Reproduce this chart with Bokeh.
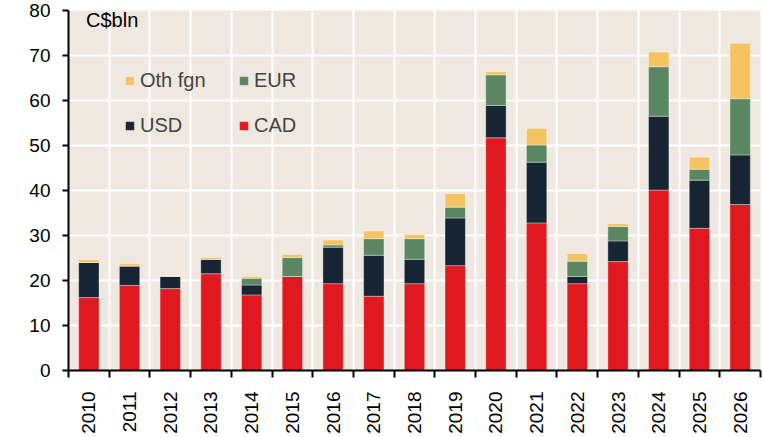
import math
from bokeh.plotting import figure
from bokeh.models import ColumnDataSource, FixedTicker, Legend, LegendItem, Label, Range1d
from bokeh.embed import file_html
from bokeh.resources import INLINE

years = ["2010", "2011", "2012", "2013", "2014", "2015", "2016", "2017", "2018",
         "2019", "2020", "2021", "2022", "2023", "2024", "2025", "2026"]
cad = [16.2, 18.9, 18.2, 21.5, 16.8, 20.9, 19.3, 16.5, 19.3, 23.3, 51.7, 32.8, 19.3, 24.2, 40.1, 31.6, 36.9]
usd = [7.8, 4.3, 2.7, 3.2, 2.2, 0.0, 8.1, 9.1, 5.4, 10.6, 7.2, 13.5, 1.6, 4.6, 16.4, 10.7, 11.0]
eur = [0.0, 0.0, 0.0, 0.0, 1.5, 4.2, 0.5, 3.7, 4.6, 2.4, 6.8, 3.8, 3.4, 3.2, 11.0, 2.4, 12.5]
oth = [0.6, 0.5, 0.1, 0.4, 0.4, 0.7, 1.1, 1.7, 0.9, 3.0, 0.7, 3.7, 1.7, 0.6, 3.3, 2.7, 12.3]
yticks = [0, 10, 20, 30, 40, 50, 60, 70, 80]

series = ["CAD", "USD", "EUR", "Oth"]
labels = ["CAD", "USD", "EUR", "Oth fgn"]
colors = ["#E0181F", "#162433", "#5A8762", "#F5C462"]
FONT = "Liberation Sans"

n = len(years)
xs = [i + 0.5 for i in range(n)]          # category centres
bounds = list(range(n + 1))               # category boundaries
src = ColumnDataSource(dict(x=xs, CAD=cad, USD=usd, EUR=eur, Oth=oth))

p = figure(width=762, height=436, output_backend="svg", toolbar_location=None,
           x_range=Range1d(0, n), y_range=Range1d(0, 80),
           min_border_left=68, min_border_right=2, min_border_top=10, min_border_bottom=63)
p.background_fill_color = "#EFE8E1"
p.border_fill_color = "white"
p.outline_line_color = None

rs = p.vbar_stack(series, x="x", width=0.5, source=src, fill_color=colors,
                  line_color="white", line_alpha=0.35, line_width=1)

# grids
p.xgrid.ticker = FixedTicker(ticks=bounds)
p.xgrid.grid_line_color = "white"
p.xgrid.grid_line_width = 2
p.ygrid.ticker = FixedTicker(ticks=yticks)
p.ygrid.grid_line_color = "white"
p.ygrid.grid_line_width = 2

# y axis
ya = p.yaxis[0]
ya.ticker = FixedTicker(ticks=yticks)
ya.axis_line_color = "black"
ya.axis_line_width = 2
ya.major_tick_out = 6
ya.major_tick_in = 0
ya.major_tick_line_width = 2
ya.minor_tick_line_color = None
ya.major_label_standoff = 12
ya.major_label_text_font = FONT
ya.major_label_text_font_size = "19px"
ya.major_label_text_color = "black"

# x axis
xa = p.xaxis[0]
xa.ticker = FixedTicker(ticks=xs, minor_ticks=bounds)
xa.major_label_overrides = {x: y for x, y in zip(xs, years)}
xa.axis_line_color = "black"
xa.axis_line_width = 2
xa.major_tick_out = 0
xa.major_tick_in = 0
xa.major_tick_line_color = None
xa.minor_tick_out = 7
xa.minor_tick_in = 0
xa.minor_tick_line_color = "black"
xa.minor_tick_line_width = 2
xa.major_label_orientation = math.pi / 2
xa.major_label_standoff = 14
xa.major_label_text_font = FONT
xa.major_label_text_font_size = "19px"
xa.major_label_text_color = "black"

# legend (column-major fill: Oth fgn / USD in col 1, EUR / CAD in col 2)
items = [LegendItem(label=labels[i], renderers=[rs[i]]) for i in [3, 1, 2, 0]]
legend = Legend(items=items, ncols=2, location=(56, 233), margin=0, padding=0,
                spacing=22, glyph_width=11, glyph_height=11, label_standoff=5,
                label_width=76, label_height=20,
                label_text_font=FONT, label_text_font_size="20px",
                border_line_alpha=0, background_fill_alpha=0)
p.add_layout(legend)

p.add_layout(Label(x=0.43, y=77.8, text="C$bln", text_baseline="middle",
                   text_font=FONT, text_font_size="20px", text_color="black"))

open("out.html", "w").write(file_html(p, INLINE))
